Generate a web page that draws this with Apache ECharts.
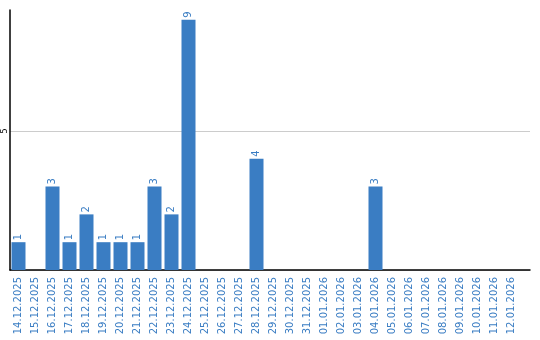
<!DOCTYPE html>
<html><head><meta charset="utf-8">
<script src="https://cdn.jsdelivr.net/npm/echarts@6/dist/echarts.min.js"></script>
<style>html,body{margin:0;padding:0;background:#fff}#c{width:540px;height:340px}</style>
</head><body><div id="c"></div>
<script>
const categories = ['14.12.2025','15.12.2025','16.12.2025','17.12.2025','18.12.2025','19.12.2025','20.12.2025','21.12.2025','22.12.2025','23.12.2025','24.12.2025','25.12.2025','26.12.2025','27.12.2025','28.12.2025','29.12.2025','30.12.2025','31.12.2025','01.01.2026','02.01.2026','03.01.2026','04.01.2026','05.01.2026','06.01.2026','07.01.2026','08.01.2026','09.01.2026','10.01.2026','11.01.2026','12.01.2026'];
const values = [1,0,3,1,2,1,1,1,3,2,9,0,0,0,4,0,0,0,0,0,0,3,0,0,0,0,0,0,0,0];
const yTickLabels = [5];
const blue = '#3a7dc3';
const chart = echarts.init(document.getElementById('c'), null, {renderer:'canvas'});
chart.setOption({
  animation:false,
  grid:[
    {left:10, right:20, top:10, bottom:70, containLabel:false},
    {left:10, right:10, top:131, bottom:70, containLabel:false}
  ],
  xAxis:[
    {type:'category', gridIndex:0, data:categories, boundaryGap:true,
     axisLine:{show:false}, axisTick:{show:false},
     axisLabel:{interval:0, rotate:90, color:blue, fontSize:10, fontFamily:'DejaVu Sans', margin:7}},
    {type:'category', gridIndex:1, data:[''], axisLine:{show:true, lineStyle:{color:'#000', width:1.5}},
     axisTick:{show:false}, axisLabel:{show:false}}
  ],
  yAxis:[
    {type:'value', gridIndex:0, min:0, max:9.35, interval:5,
     axisLine:{show:true, lineStyle:{color:'#000', width:1.5}}, axisTick:{show:false}, splitLine:{show:false},
     axisLabel:{rotate:90, fontSize:8, color:'#000', fontFamily:'DejaVu Sans', margin:1,
       formatter:v=> yTickLabels.includes(v) ? String(v) : ''}},
    {type:'value', gridIndex:1, min:0, max:5, interval:5,
     axisLine:{show:false}, axisTick:{show:false}, axisLabel:{show:false},
     splitLine:{show:true, lineStyle:{color:'#cccccc', width:1}}}
  ],
  series:[{
    type:'bar', xAxisIndex:0, yAxisIndex:0, data:values, barWidth:14,
    itemStyle:{color:blue},
    label:{show:true, position:'top', rotate:90, align:'left', verticalAlign:'middle', distance:2,
      color:blue, fontSize:10, fontFamily:'DejaVu Sans',
      formatter:p=> p.value ? String(p.value) : ''}
  }]
});
</script></body></html>
